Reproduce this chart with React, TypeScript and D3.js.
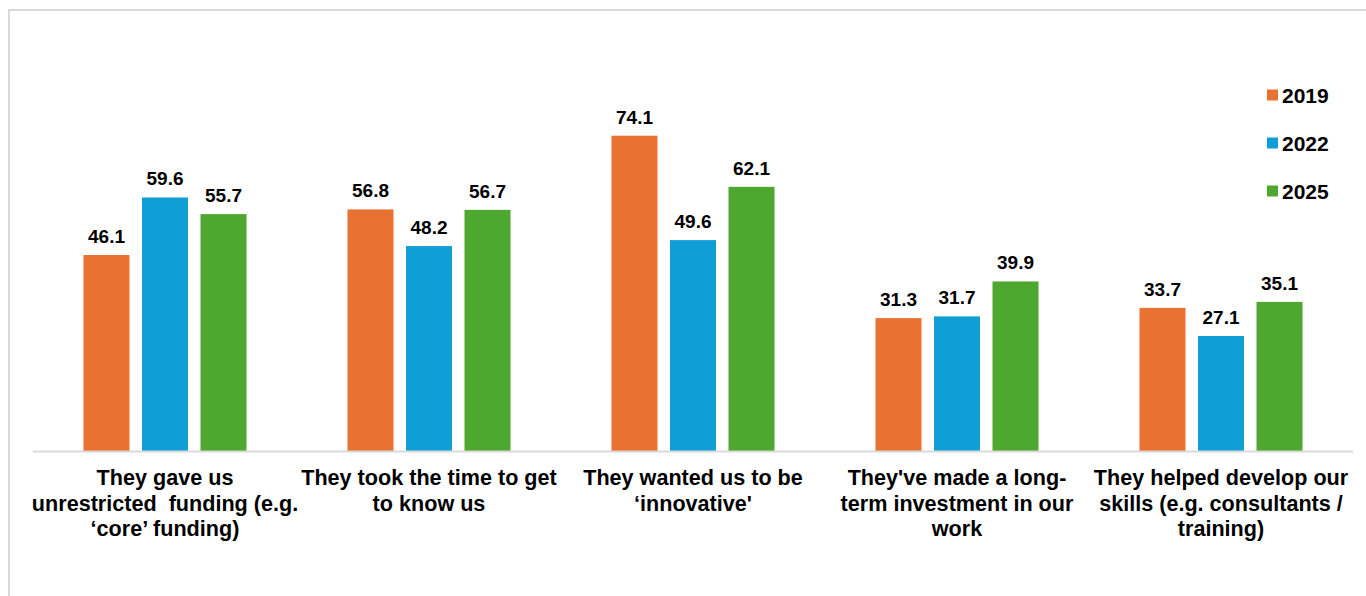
import React from "react";
import * as d3 from "d3";

const categories = ["c1", "c2", "c3", "c4", "c5"];
const categoryLines: string[][] = [
  ["They gave us", "unrestricted  funding (e.g.", "\u2018core\u2019 funding)"],
  ["They took the time to get", "to know us"],
  ["They wanted us to be", "\u2018innovative'"],
  ["They've made a long-", "term investment in our", "work"],
  ["They helped develop our", "skills (e.g. consultants /", "training)"],
];
const seriesNames = ["2019", "2022", "2025"];
const values2019 = [46.1, 56.8, 74.1, 31.3, 33.7];
const values2022 = [59.6, 48.2, 49.6, 31.7, 27.1];
const values2025 = [55.7, 56.7, 62.1, 39.9, 35.1];
const seriesValues = [values2019, values2022, values2025];
const colors = ["#E97132", "#0F9ED5", "#4EA72E"];

const FONT = "Arial, 'Liberation Sans', sans-serif";

export default function App() {
  const W = 1366;
  const H = 596;
  const baseY = 451.5;
  const x0 = d3.scaleBand<string>().domain(categories).range([33, 1353]).padding(0);
  const x1 = d3
    .scaleBand<string>()
    .domain(seriesNames)
    .range([0, x0.bandwidth()])
    .paddingInner(0.2137)
    .paddingOuter(0.863);
  const y = d3.scaleLinear().domain([0, 80]).range([baseY, baseY - 80 * 4.262]);

  return (
    <svg
      width={W}
      height={H}
      style={{ position: "absolute", left: 0, top: 0, background: "#fff" }}
      fontFamily={FONT}
    >
      <rect x={9} y={10} width={1400} height={700} fill="#fff" stroke="#d9d9d9" strokeWidth={2} />
      {categories.map((c, ci) => (
        <g key={c} transform={`translate(${x0(c)},0)`}>
          {seriesNames.map((s, si) => {
            const v = seriesValues[si][ci];
            const bx = x1(s)!;
            return (
              <g key={s}>
                <rect x={bx} y={y(v)} width={x1.bandwidth()} height={baseY - y(v)} fill={colors[si]} />
                <text
                  x={bx + x1.bandwidth() / 2}
                  y={y(v) - 12}
                  textAnchor="middle"
                  fontSize={19}
                  fontWeight="bold"
                  fill="#000"
                >
                  {v.toFixed(1)}
                </text>
              </g>
            );
          })}
          {categoryLines[ci].map((line, li) => (
            <text
              key={li}
              x={x0.bandwidth() / 2}
              y={485 + li * 25.5}
              textAnchor="middle"
              fontSize={21.6}
              fontWeight="bold"
              fill="#000"
              style={{ whiteSpace: "pre" }}
            >
              {line}
            </text>
          ))}
        </g>
      ))}
      <line x1={33} x2={1353} y1={baseY} y2={baseY} stroke="#d9d9d9" strokeWidth={2} />
      {seriesNames.map((s, si) => (
        <g key={s} transform={`translate(1267,${95 + si * 48})`}>
          <rect x={0} y={-5.5} width={11} height={11} fill={colors[si]} />
          <text x={15} y={7.5} fontSize={21} fontWeight="bold" fill="#000">
            {s}
          </text>
        </g>
      ))}
    </svg>
  );
}
